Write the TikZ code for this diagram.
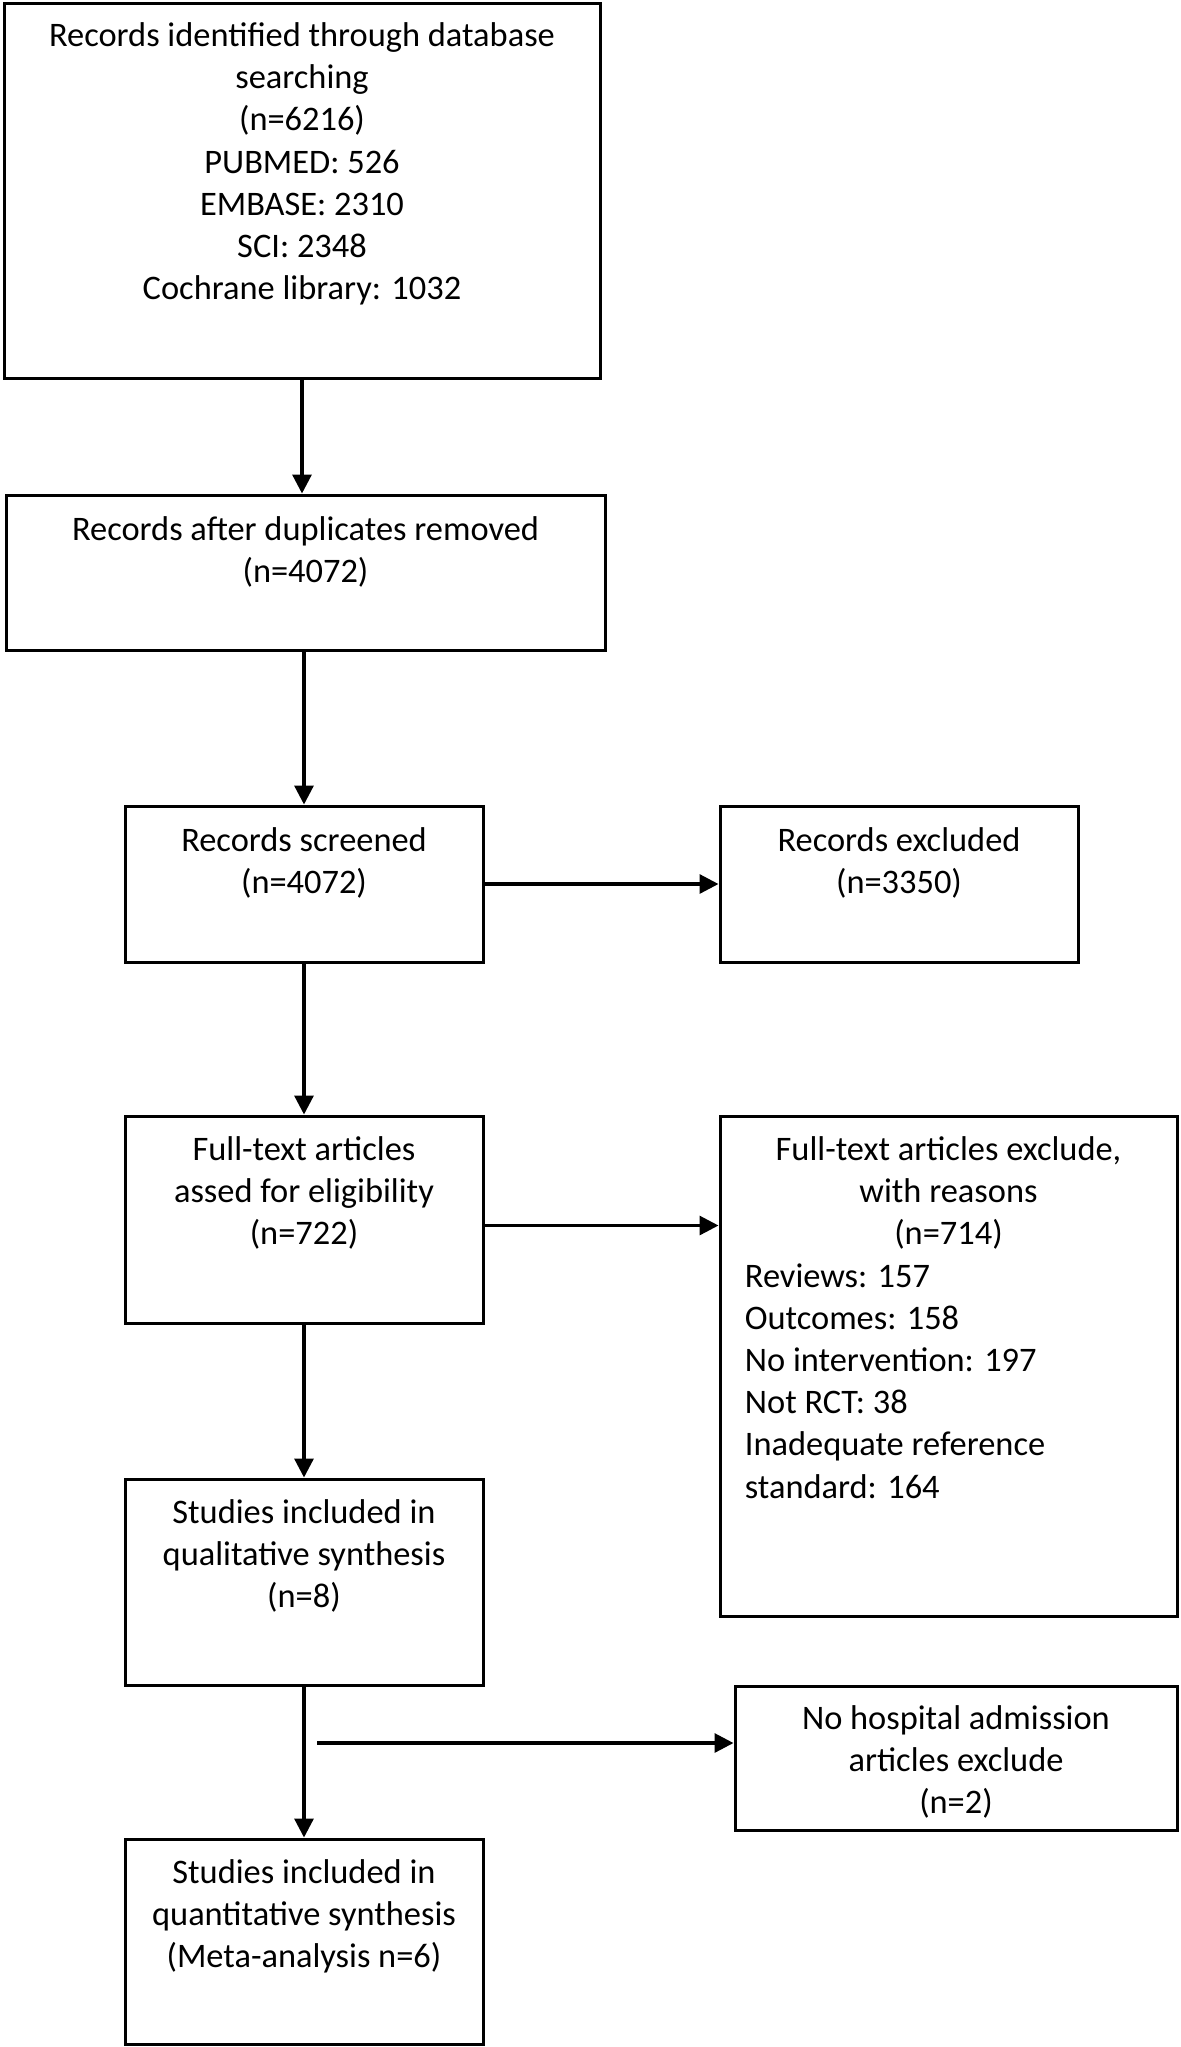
\documentclass[tikz,border=0pt]{standalone}
\usepackage{fontspec}
\setmainfont{Carlito}
\usetikzlibrary{arrows.meta,fit}
\begin{document}
\begin{tikzpicture}[x=0.5pt,y=-0.5pt,
  box/.style={draw,line width=1.5pt,inner sep=0pt,fit={#1}},
  lbl/.style={anchor=north,inner sep=0pt,align=center,font=\fontsize{17.2}{21.1}\selectfont},
  lst/.style={anchor=north west,inner sep=0pt,align=left,font=\fontsize{17.2}{21.1}\selectfont},
  arr/.style={line width=1.6pt,-{Triangle[length=9.5pt,width=9.5pt]}}]
\useasboundingbox (0,0) rectangle (1181,2047);
% boxes
\node[box={(4,3)(600,378)}] (b1) {};
\node[box={(6,495)(605,650)}] (b2) {};
\node[box={(125,806)(483,962)}] (b3) {};
\node[box={(720,806)(1078,962)}] (b4) {};
\node[box={(125,1116)(483,1323)}] (b5) {};
\node[box={(720,1116)(1177,1616)}] (b6) {};
\node[box={(125,1479)(483,1685)}] (b7) {};
\node[box={(735,1686)(1177,1830)}] (b8) {};
\node[box={(125,1839)(483,2044)}] (b9) {};
% texts
\node[lbl] (t1) at ([yshift=-7.5pt]b1.north) {\strut Records identified through database\\searching\\(n=6216)\\PUBMED: 526\\EMBASE: 2310\\SCI: 2348\\Cochrane library: 1032};
\node[lbl] (t2) at ([yshift=-8.5pt]b2.north) {\strut Records after duplicates removed\\(n=4072)};
\node[lbl] (t3) at ([yshift=-8.5pt]b3.north) {\strut Records screened\\(n=4072)};
\node[lbl] (t4) at ([yshift=-8.5pt]b4.north) {\strut Records excluded\\(n=3350)};
\node[lbl] (t5) at ([yshift=-8pt]b5.north) {\strut Full-text articles\\assed for eligibility\\(n=722)};
\node[lbl] (t6) at ([yshift=-8pt]b6.north) {\strut Full-text articles exclude,\\with reasons\\(n=714)};
\node[lst] (t6b) at ([xshift=13pt,yshift=-71.3pt]b6.north west) {\strut Reviews: 157\\Outcomes: 158\\No intervention: 197\\Not RCT: 38\\Inadequate reference\\standard: 164};
\node[lbl] (t7) at ([yshift=-8pt]b7.north) {\strut Studies included in\\qualitative synthesis\\(n=8)};
\node[lbl] (t8) at ([yshift=-7.5pt]b8.north) {\strut No hospital admission\\articles exclude\\(n=2)};
\node[lbl] (t9) at ([yshift=-8pt]b9.north) {\strut Studies included in\\quantitative synthesis\\(Meta-analysis n=6)};
% connectors
\draw[arr] (b1.south) -- (b1.south |- b2.north);
\draw[arr] (b3.north |- b2.south) -- (b3.north);
\draw[arr] (b3.east) -- (b4.west);
\draw[arr] (b3.south) -- (b5.north);
\draw[arr] ([yshift=-3pt]b5.east) -- ([yshift=-3pt]b5.east -| b6.west);
\draw[arr] (b5.south) -- (b7.north);
\draw[arr] (b7.south) -- (b9.north);
\coordinate (h3) at (317,1743);
\draw[arr] (h3) -- (h3 -| b8.west);
\end{tikzpicture}
\end{document}
